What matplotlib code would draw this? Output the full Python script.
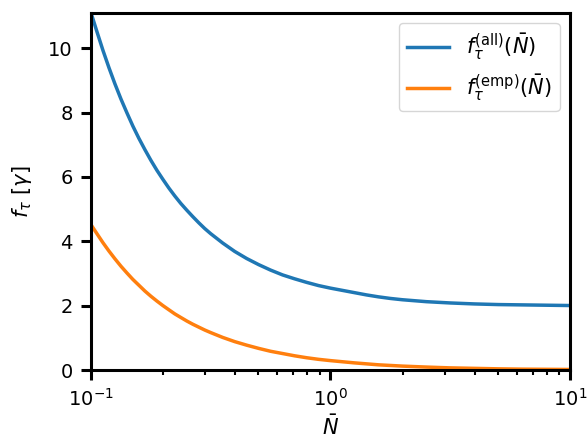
import matplotlib
matplotlib.use("Agg")
import matplotlib.pyplot as plt

# values
n_bar = [0.1, 0.1059, 0.1122, 0.1189, 0.1259, 0.1334, 0.1413, 0.1496, 0.1585,
         0.1679, 0.1778, 0.1884, 0.1995, 0.2113, 0.2239, 0.2371, 0.2512,
         0.2661, 0.2818, 0.2985, 0.3162,
         0.3548, 0.3981, 0.4467, 0.5012, 0.5623, 0.6310, 0.7079, 0.7943,
         0.8913, 1.0,
         1.122, 1.259, 1.413, 1.585, 1.778, 1.995, 2.239, 2.512, 2.818, 3.162,
         3.981, 5.012, 6.310, 7.943, 10.0]
f_all = [11.1, 10.51, 9.93, 9.39, 8.89, 8.42, 7.99, 7.58, 7.20, 6.85, 6.52,
         6.21, 5.93, 5.66, 5.41, 5.18, 4.97, 4.77, 4.58, 4.40, 4.24,
         3.95, 3.69, 3.47, 3.28, 3.11, 2.96, 2.84, 2.73, 2.63, 2.55,
         2.48, 2.41, 2.34, 2.28, 2.23, 2.19, 2.16, 2.13, 2.11, 2.09,
         2.06, 2.04, 2.03, 2.02, 2.01]
f_emp = [4.52, 4.24, 3.96, 3.70, 3.46, 3.23, 3.02, 2.82, 2.64, 2.46, 2.30,
         2.15, 2.01, 1.88, 1.75, 1.64, 1.53, 1.43, 1.34, 1.25, 1.17,
         1.02, 0.89, 0.78, 0.68, 0.59, 0.52, 0.45, 0.39, 0.34, 0.30,
         0.265, 0.23, 0.20, 0.17, 0.15, 0.13, 0.115, 0.10, 0.087, 0.075,
         0.06, 0.045, 0.035, 0.03, 0.025]

plt.rcParams['font.size'] = 14

fig = plt.figure(figsize=(5.87, 4.38), dpi=100)
ax = fig.add_axes([0.155, 0.1546, 0.816, 0.8164])

ax.plot(n_bar, f_all, color='#1f77b4', lw=2.5, label=r'$f_\tau^{(\mathrm{all})}(\bar{N})$')
ax.plot(n_bar, f_emp, color='#ff7f0e', lw=2.5, label=r'$f_\tau^{(\mathrm{emp})}(\bar{N})$')

ax.set_xscale('log')
ax.set_xlim(0.1, 10)
ax.set_ylim(0, max(f_all))
ax.set_xlabel(r'$\bar{N}$', fontsize=15, labelpad=3)
ax.set_ylabel(r'$f_\tau\ [\gamma]$', fontsize=15, labelpad=10)

for s in ax.spines.values():
    s.set_linewidth(2.2)
ax.tick_params(which='major', length=7, width=2.2, pad=6)
ax.tick_params(which='minor', length=3.5, width=1.5)

ax.legend(loc='upper right', fontsize=15)

fig.savefig('out.png', dpi=100)
